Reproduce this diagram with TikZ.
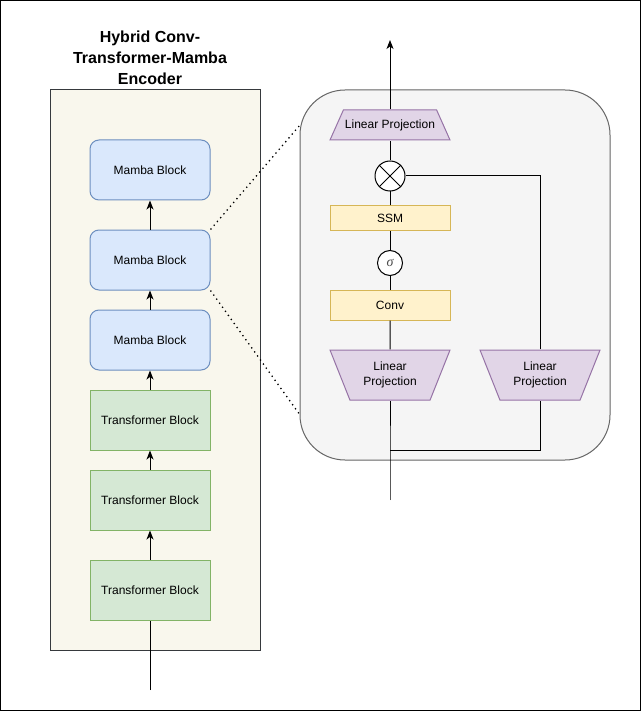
\documentclass[tikz,border=0pt]{standalone}
\usepackage{fontspec}
\setmainfont{Liberation Sans}
\newfontfamily\sigmafont{Liberation Serif}
\usetikzlibrary{shapes.geometric,arrows.meta}

\definecolor{encfill}{HTML}{F9F7ED}
\definecolor{encline}{HTML}{36393D}
\definecolor{mambafill}{HTML}{DAE8FC}
\definecolor{mambaline}{HTML}{6C8EBF}
\definecolor{transfill}{HTML}{D5E8D4}
\definecolor{transline}{HTML}{82B366}
\definecolor{panelfill}{HTML}{F5F5F5}
\definecolor{panelline}{HTML}{666666}
\definecolor{projfill}{HTML}{E1D5E7}
\definecolor{projline}{HTML}{9673A6}
\definecolor{opfill}{HTML}{FFF2CC}
\definecolor{opline}{HTML}{D6B656}

\begin{document}
\begin{tikzpicture}[x=1pt, y=-1pt, line width=1pt,
        font=\fontsize{12}{15}\selectfont,
        blk/.style={draw, minimum width=120pt, minimum height=60pt, inner sep=0pt},
        mamba/.style={blk, rounded corners=9pt, fill=mambafill, draw=mambaline},
        trans/.style={blk, fill=transfill, draw=transline},
        proj/.style={trapezium, draw=projline, fill=projfill, inner xsep=0pt,
            trapezium stretches body, align=center, minimum width=120pt},
        op/.style={draw=opline, fill=opfill, minimum width=120pt, inner sep=0pt},
        flow/.style={-{Stealth[length=9pt, width=7pt, inset=2.5pt]}},
        zoomline/.style={line width=1.3pt, dash pattern=on 1.3pt off 3.7pt}]
        \useasboundingbox (0,0) rectangle (641,711);
        \draw (0.5,0.5) rectangle (640.5,710.5);

        % encoder
        \node[font=\fontsize{16}{21}\selectfont\bfseries, align=center] (title) at (150,58) {Hybrid Conv-\\Transformer-Mamba\\Encoder};
        \node[draw=encline, fill=encfill, minimum width=210pt, minimum height=560pt] (encoder) at (155,370) {};
        \node[mamba] (mamba1) at (150,170) {Mamba Block};
        \node[mamba] (mamba2) at (150,260) {Mamba Block};
        \node[mamba] (mamba3) at (150,340) {Mamba Block};
        \node[trans] (trans1) at (150,420) {Transformer Block};
        \node[trans] (trans2) at (150,500) {Transformer Block};
        \node[trans] (trans3) at (150,590) {Transformer Block};
        \coordinate (encin) at (150,690);

        \draw (encin) -- (trans3);
        \draw[flow] (trans3) -- (trans2);
        \draw[flow] (trans2) -- (trans1);
        \draw[flow] (trans1) -- (mamba3);
        \draw[flow] (mamba3) -- (mamba2);
        \draw[flow] (mamba2) -- (mamba1);

        % zoomed mamba block
        \node[draw=panelline, fill=panelfill, rounded corners=45pt, minimum width=310pt, minimum height=370pt] (panel) at (455,275) {};
        \coordinate (zoomtop) at (300,125);
        \coordinate (zoombot) at (300,415);
        \draw[zoomline] (mamba2.north east) -- (zoomtop);
        \draw[zoomline] (mamba2.south east) -- (zoombot);

        \node[proj, trapezium left angle=65.8, trapezium right angle=65.8, inner ysep=9.3pt, minimum height=30pt] (projout) at (390,125) {Linear Projection};
        \node[draw, circle, fill=white, minimum size=30pt, inner sep=0pt] (mul) at (390,176) {};
        \draw (mul.north west) -- (mul.south east) (mul.north east) -- (mul.south west);
        \node[op, minimum height=24pt] (ssm) at (390,218) {SSM};
        \node[draw, circle, fill=white, minimum size=25pt, inner sep=0pt, text=black!70,
            font=\fontsize{14}{14}\sigmafont\itshape] (act) at (390,263) {σ};
        \node[op, minimum height=30pt] (conv) at (390,305) {Conv};
        \node[proj, shape border rotate=180, trapezium left angle=68.2, trapezium right angle=68.2, inner ysep=11.8pt, minimum height=50pt] (projin) at (390,375) {Linear\\Projection};
        \node[proj, shape border rotate=180, trapezium left angle=68.2, trapezium right angle=68.2, inner ysep=11.8pt, minimum height=50pt] (projgate) at (540,375) {Linear\\Projection};
        \coordinate (in) at (390,500);
        \coordinate (split) at (390,450);
        \coordinate (out) at (390,40);

        \draw (in) -- (split) -- (projin);
        \draw (projin) -- (conv);
        \draw (conv) -- (act);
        \draw (act) -- (ssm);
        \draw (ssm) -- (mul);
        \draw (mul) -- (projout);
        \draw[flow] (projout) -- (out);
        \draw (split) -| (projgate);
        \draw (projgate) |- (mul);
\end{tikzpicture}
\end{document}
